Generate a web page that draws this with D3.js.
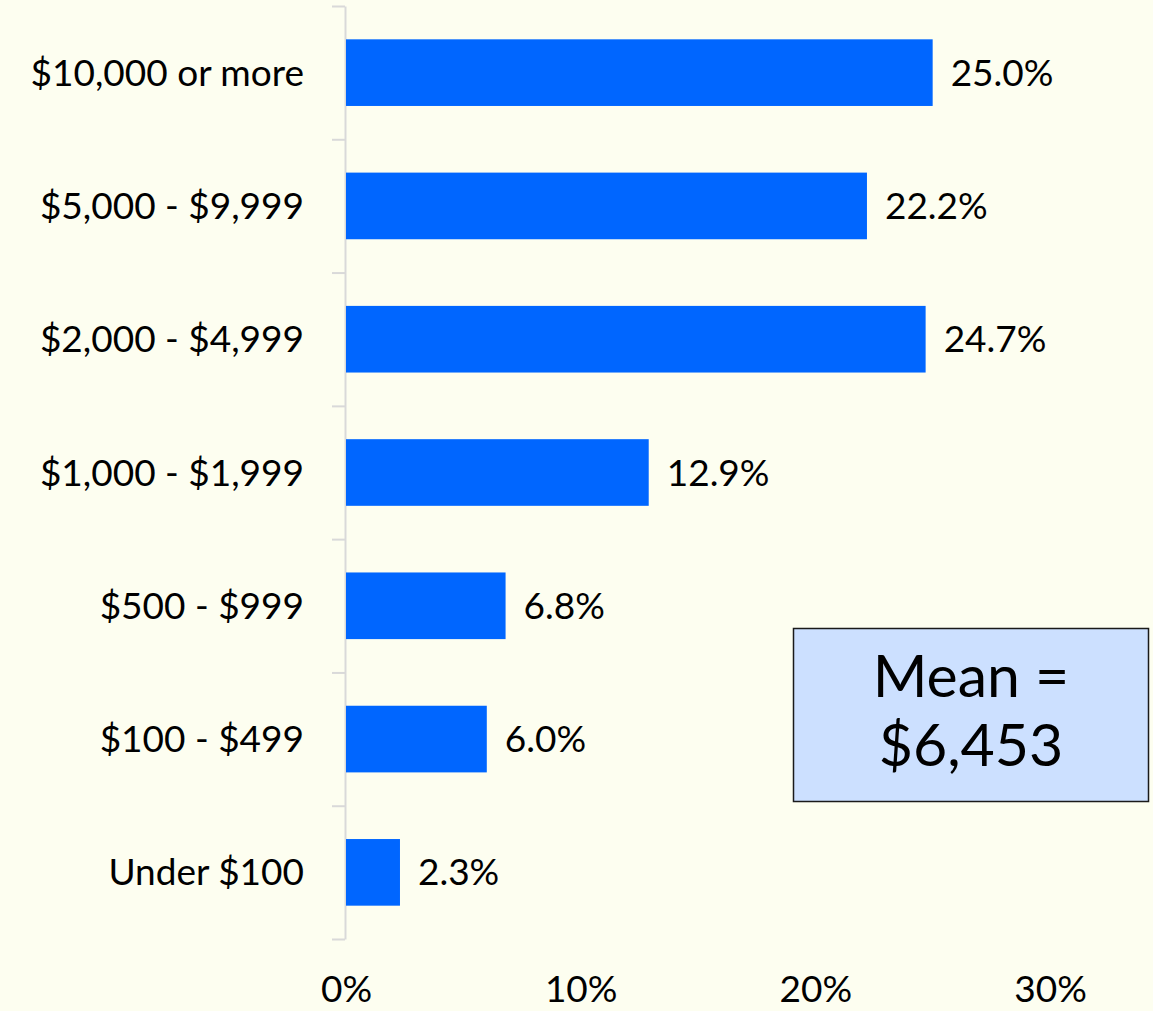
<!DOCTYPE html>
<html>
<head>
<meta charset="utf-8">
<script src="https://cdn.jsdelivr.net/npm/d3@7"></script>
<style>
  html, body { margin: 0; padding: 0; background: #fdfef0; }
  svg { display: block; font-family: Lato, "Open Sans", sans-serif; }
</style>
</head>
<body>
<div id="chart"></div>
<script>
const WIDTH = 1153;
const HEIGHT = 1011;
const MARGIN = { left: 346, right: 103, top: 6, bottom: 72 };

const categories = ["$10,000 or more", "$5,000 - $9,999", "$2,000 - $4,999", "$1,000 - $1,999",
  "$500 - $999", "$100 - $499", "Under $100"];
const values = [25.0, 22.2, 24.7, 12.9, 6.8, 6.0, 2.3];
const xTicks = [0, 10, 20, 30];
const meanLines = ["Mean =", "$6,453"];

let svg = d3.select("#chart").append("svg")
  .attr("width", WIDTH).attr("height", HEIGHT);

svg.append("rect").attr("width", WIDTH).attr("height", HEIGHT).attr("fill", "#fdfef0");

let xScale = d3.scaleLinear()
  .domain([0, 30])
  .range([MARGIN.left, WIDTH - MARGIN.right]);

let yScale = d3.scaleBand()
  .domain(categories)
  .range([MARGIN.top, HEIGHT - MARGIN.bottom])
  .paddingInner(0.5)
  .paddingOuter(0.25);

// boundary scale for the category tick marks
let yEdge = d3.scaleLinear()
  .domain([0, categories.length])
  .range([MARGIN.top, HEIGHT - MARGIN.bottom]);

// y axis: grey line with ticks between categories
let yAxis = svg.append("g")
  .attr("transform", `translate(${MARGIN.left - 1}, 0)`)
  .call(d3.axisLeft(yEdge).tickValues(d3.range(categories.length + 1)).tickFormat("").tickSize(13).tickSizeOuter(0));
yAxis.select(".domain").attr("stroke", "#d9d9d9").attr("stroke-width", 2);
yAxis.selectAll(".tick line").attr("stroke", "#d9d9d9").attr("stroke-width", 2);

// bars
svg.append("g").selectAll("rect")
  .data(values)
  .join("rect")
  .attr("x", xScale(0))
  .attr("y", (d, i) => yScale(categories[i]))
  .attr("width", d => xScale(d) - xScale(0))
  .attr("height", yScale.bandwidth())
  .attr("fill", "#0066ff");

// value labels
svg.append("g").selectAll("text")
  .data(values)
  .join("text")
  .attr("x", d => xScale(d) + 18)
  .attr("y", (d, i) => yScale(categories[i]) + yScale.bandwidth() / 2 + 13)
  .attr("font-size", 37)
  .attr("fill", "#000")
  .text(d => d.toFixed(1) + "%");

// category labels
svg.append("g").selectAll("text")
  .data(categories)
  .join("text")
  .attr("x", 304)
  .attr("y", d => yScale(d) + yScale.bandwidth() / 2 + 13)
  .attr("text-anchor", "end")
  .attr("font-size", 37)
  .attr("fill", "#000")
  .text(d => d);

// x axis labels only
let xAxis = svg.append("g")
  .attr("transform", `translate(0, ${HEIGHT - 9})`)
  .call(d3.axisBottom(xScale).tickValues(xTicks).tickFormat(d => d + "%").tickSize(0).tickPadding(0));
xAxis.select(".domain").remove();
xAxis.selectAll("text")
  .attr("dy", 0)
  .attr("font-size", 37)
  .attr("font-family", "Lato, 'Open Sans', sans-serif")
  .attr("fill", "#000");

// mean box
let box = svg.append("g");
box.append("rect")
  .attr("x", 793.5).attr("y", 628.5)
  .attr("width", 355).attr("height", 173)
  .attr("fill", "#cce0ff")
  .attr("stroke", "#1a1a1a")
  .attr("stroke-width", 1.5);
box.selectAll("text")
  .data(meanLines)
  .join("text")
  .attr("x", 971)
  .attr("y", (d, i) => 697 + i * 69)
  .attr("text-anchor", "middle")
  .attr("font-size", 59)
  .attr("fill", "#000")
  .text(d => d);
</script>
</body>
</html>
